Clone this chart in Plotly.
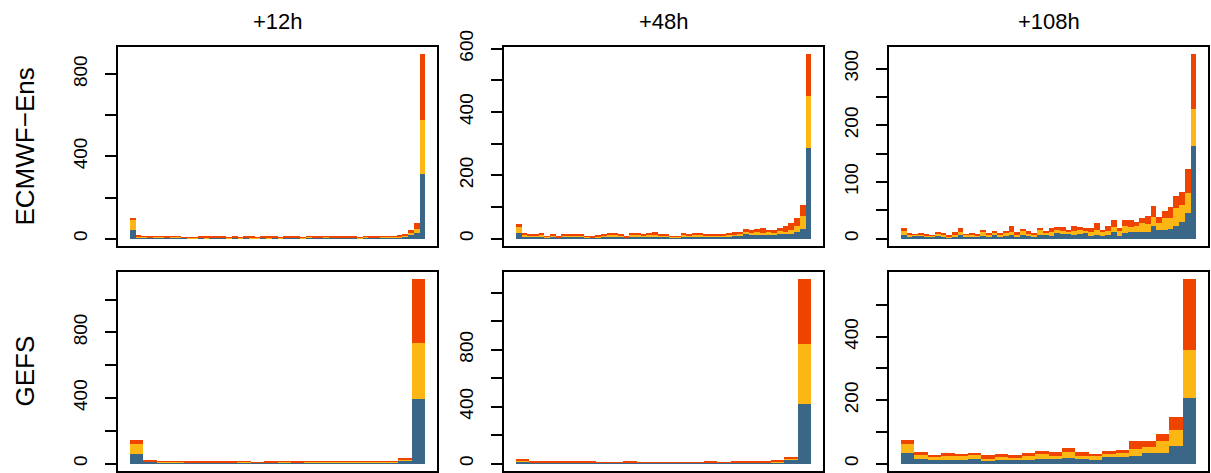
import plotly.graph_objects as go

W, H = 1211, 473

col_titles = ["+12h", "+48h", "+108h"]
row_titles = ["ECMWF\u2212Ens", "GEFS"]
series_names = ["low", "mid", "high"]
colors = ["#3a6688", "#fdb714", "#ee4400"]

# ECMWF-Ens +12h (52 ranks)
ec12_blue = [40, 6, 5, 4, 5, 5, 4, 5, 5, 4, 3, 3, 4, 3, 4, 4, 5, 3, 4, 3, 5, 3, 3, 4, 3, 4,
             3, 4, 4, 4, 3, 5, 4, 4, 5, 4, 4, 5, 5, 4, 3, 5, 4, 4, 5, 5, 5, 6, 8, 19, 27, 316]
ec12_yellow = [52, 4, 3, 3, 4, 3, 3, 3, 3, 2, 2, 2, 2, 3, 2, 3, 2, 2, 2, 2, 2, 2, 2, 2, 3, 2,
               2, 2, 2, 3, 2, 3, 2, 3, 3, 3, 3, 2, 2, 2, 2, 3, 2, 3, 3, 4, 4, 4, 7, 8, 21, 262]
ec12_orange = [6, 3, 2, 2, 3, 2, 2, 2, 3, 1, 1, 2, 2, 3, 2, 2, 1, 2, 2, 2, 2, 3, 2, 2, 2, 2,
               2, 2, 2, 2, 2, 2, 3, 3, 4, 2, 3, 2, 2, 2, 2, 3, 2, 2, 2, 2, 3, 4, 7, 16, 27, 318]

# ECMWF-Ens +48h
ec48_blue = [17, 8, 7, 6, 7, 4, 6, 3, 6, 6, 7, 7, 4, 3, 5, 6, 7, 7, 6, 3, 7, 7, 7, 8, 8, 7,
             6, 4, 4, 7, 7, 8, 7, 7, 6, 6, 6, 8, 9, 10, 14, 10, 13, 12, 12, 12, 14, 15, 15, 22, 29, 285]
ec48_yellow = [21, 5, 4, 4, 5, 2, 3, 2, 4, 4, 4, 4, 2, 2, 3, 3, 5, 5, 3, 2, 5, 5, 4, 5, 6, 4,
               3, 2, 2, 5, 4, 5, 5, 4, 3, 3, 3, 4, 5, 5, 8, 8, 9, 7, 8, 7, 9, 7, 12, 18, 43, 165]
ec48_orange = [8, 6, 4, 3, 5, 2, 3, 1, 4, 4, 4, 4, 2, 1, 3, 3, 5, 5, 3, 1, 5, 5, 4, 6, 6, 4,
               3, 2, 2, 5, 4, 6, 5, 4, 3, 3, 3, 5, 6, 7, 8, 9, 10, 14, 8, 8, 10, 18, 21, 24, 34, 132]

# ECMWF-Ens +108h
ec108_blue = [7, 4, 5, 5, 4, 4, 6, 4, 2, 4, 6, 4, 4, 4, 5, 4, 6, 4, 5, 6, 4, 7, 5, 4, 7, 6,
              4, 10, 8, 8, 7, 9, 10, 5, 7, 5, 7, 11, 5, 10, 11, 11, 12, 11, 23, 15, 15, 17, 23, 30, 45, 164]
ec108_yellow = [6, 3, 2, 2, 2, 1, 3, 3, 2, 3, 5, 3, 3, 2, 7, 3, 4, 3, 5, 5, 3, 8, 4, 3, 8, 4,
                8, 6, 5, 4, 7, 6, 4, 6, 8, 6, 7, 10, 8, 12, 10, 12, 16, 15, 16, 13, 21, 19, 31, 30, 36, 65]
ec108_orange = [5, 2, 1, 2, 1, 1, 3, 3, 2, 4, 7, 1, 3, 2, 4, 3, 3, 3, 2, 12, 4, 2, 4, 3, 4, 3,
                6, 4, 7, 4, 8, 5, 5, 7, 13, 4, 8, 11, 5, 11, 11, 6, 8, 14, 19, 11, 13, 19, 22, 22, 41, 96]

# GEFS +12h (22 ranks)
ge12_blue = [57, 10, 8, 8, 7, 7, 7, 7, 8, 4, 6, 7, 7, 7, 8, 8, 7, 7, 7, 7, 16, 392]
ge12_yellow = [64, 3, 2, 2, 2, 2, 2, 2, 2, 1, 2, 3, 2, 3, 3, 3, 3, 3, 3, 3, 8, 343]
ge12_orange = [20, 4, 2, 4, 2, 2, 1, 2, 4, 1, 3, 4, 2, 4, 4, 4, 4, 4, 4, 4, 8, 388]

# GEFS +48h
ge48_blue = [14, 8, 8, 8, 8, 8, 6, 6, 7, 6, 6, 6, 6, 7, 7, 7, 8, 8, 8, 9, 26, 419]
ge48_yellow = [10, 3, 2, 2, 2, 3, 1, 1, 3, 1, 1, 1, 1, 2, 3, 2, 2, 2, 3, 5, 11, 418]
ge48_orange = [6, 2, 2, 2, 2, 2, 1, 1, 2, 1, 1, 1, 1, 2, 2, 2, 2, 2, 3, 6, 12, 456]

# GEFS +108h
ge108_blue = [35, 14, 12, 10, 12, 16, 7, 11, 10, 11, 15, 16, 17, 16, 13, 21, 21, 24, 33, 34, 57, 206]
ge108_yellow = [26, 14, 9, 15, 12, 11, 8, 10, 8, 13, 14, 7, 19, 7, 11, 10, 15, 23, 19, 37, 50, 153]
ge108_orange = [14, 8, 5, 9, 7, 7, 11, 10, 9, 9, 11, 13, 14, 13, 7, 9, 6, 23, 18, 21, 39, 222]

# y-axis ticks and labels per panel
ticks_ec12 = [0, 200, 400, 600, 800]
labels_ec12 = ["0", "", "400", "", "800"]
ticks_ec48 = [0, 100, 200, 300, 400, 500, 600]
labels_ec48 = ["0", "", "200", "", "400", "", "600"]
ticks_ec108 = [0, 50, 100, 150, 200, 250, 300]
labels_ec108 = ["0", "", "100", "", "200", "", "300"]
ticks_ge12 = [0, 200, 400, 600, 800, 1000]
labels_ge12 = ["0", "", "400", "", "800", ""]
ticks_ge48 = [0, 200, 400, 600, 800, 1000, 1200]
labels_ge48 = ["0", "", "400", "", "800", "", ""]
ticks_ge108 = [0, 100, 200, 300, 400, 500]
labels_ge108 = ["0", "", "200", "", "400", ""]

panels = [
    ([ec12_blue, ec12_yellow, ec12_orange], ticks_ec12, labels_ec12),
    ([ec48_blue, ec48_yellow, ec48_orange], ticks_ec48, labels_ec48),
    ([ec108_blue, ec108_yellow, ec108_orange], ticks_ec108, labels_ec108),
    ([ge12_blue, ge12_yellow, ge12_orange], ticks_ge12, labels_ge12),
    ([ge48_blue, ge48_yellow, ge48_orange], ticks_ge48, labels_ge48),
    ([ge108_blue, ge108_yellow, ge108_orange], ticks_ge108, labels_ge108),
]

# panel boxes in pixels (left, right), (top, bottom)
col_px = [(118, 437), (504, 823), (889, 1208)]
row_px = [(47, 246), (272, 471)]

FONT = "Liberation Sans, Arial, Helvetica, sans-serif"
fig = go.Figure()
layout = dict(
    width=W, height=H, margin=dict(l=0, r=0, t=0, b=0, autoexpand=False),
    plot_bgcolor="white", paper_bgcolor="white",
    barmode="stack", bargap=0, showlegend=False,
    font=dict(family=FONT, color="black"),
)

for k, (series, tvals, ttext) in enumerate(panels):
    r, c = divmod(k, 3)
    idx = "" if k == 0 else str(k + 1)
    n = len(series[0])
    xs = [i + 0.5 for i in range(n)]
    totals = [sum(v) for v in zip(*series)]
    ymax = max(totals)
    for s, name, col in zip(series, series_names, colors):
        fig.add_trace(go.Bar(
            x=xs, y=s, width=1, name=name, marker=dict(color=col, line=dict(width=0)),
            xaxis="x" + idx, yaxis="y" + idx, hoverinfo="y",
        ))
    x0, x1 = col_px[c]
    y0, y1 = row_px[r]
    layout["xaxis" + idx] = dict(
        domain=[x0 / W, x1 / W], range=[-0.04 * n, 1.04 * n], automargin=False,
        anchor="y" + idx, showline=True, mirror=True, linecolor="black", linewidth=2,
        showticklabels=False, ticks="", showgrid=False, zeroline=False, fixedrange=True,
    )
    layout["yaxis" + idx] = dict(
        domain=[1 - y1 / H, 1 - y0 / H], range=[-0.04 * ymax, 1.04 * ymax], automargin=False,
        anchor="x" + idx, showline=True, mirror=True, linecolor="black", linewidth=2,
        ticks="outside", ticklen=11, tickwidth=1.8, tickcolor="black",
        tickvals=tvals, ticktext=ttext, tickangle=-90,
        tickfont=dict(family=FONT, size=19, color="black"), ticklabelstandoff=10,
        showgrid=False, zeroline=False, fixedrange=True,
    )

fig.update_layout(**layout)

for c, t in enumerate(col_titles):
    x0, x1 = col_px[c]
    fig.add_annotation(text=t, x=(x0 + x1) / 2 / W, y=1 - 22 / H, xref="paper", yref="paper",
                       showarrow=False, font=dict(family=FONT, size=22, color="black"),
                       xanchor="center", yanchor="middle")
for r, t in enumerate(row_titles):
    y0, y1 = row_px[r]
    fig.add_annotation(text=t, x=24 / W, y=1 - (y0 + y1) / 2 / H, xref="paper", yref="paper",
                       showarrow=False, textangle=-90, font=dict(family=FONT, size=26, color="black"),
                       xanchor="center", yanchor="middle")

fig.write_html(
    "out.html",
    config={"displayModeBar": False},
    post_script="document.body.style.margin='0';document.body.style.padding='0';"
                "document.documentElement.style.overflow='hidden';"
                "var d=document.querySelector('.plotly-graph-div');d.style.position='absolute';"
                "d.style.top='0px';d.style.left='0px';",
)
